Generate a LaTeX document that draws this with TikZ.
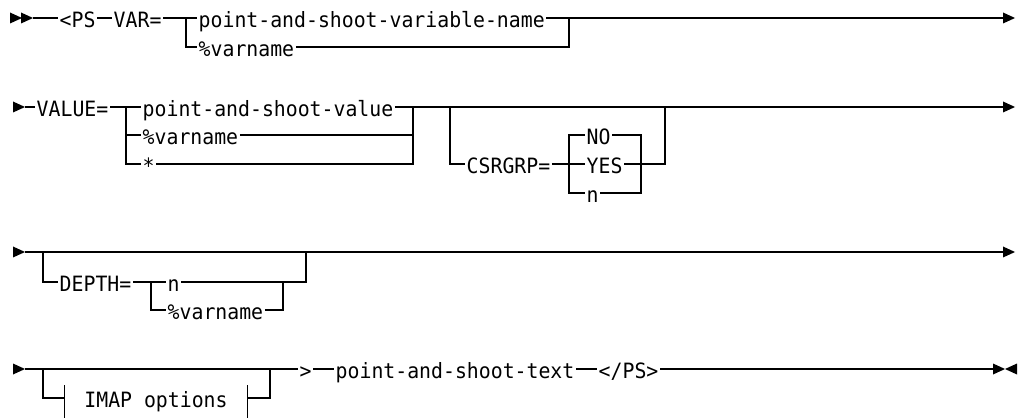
\documentclass[tikz,border=0pt]{standalone}
\usepackage{fontspec}
\newfontfamily\railfont{DejaVu Sans Mono}[FakeStretch=0.94]
\usetikzlibrary{calc,positioning}
\tikzset{
myWord/.style={
	font={\fontsize{12}{14}\railfont},
	anchor=west, inner xsep=0.6pt, inner ysep=0pt,
	text height=10.5pt, text depth=0pt
}
, myFrag/.style={
	font={\fontsize{12}{14}\railfont},
	inner sep=0pt, minimum width=3.64cm,
	text height=10.5pt, text depth=0pt
}
% rails
, myRail/.style={line width=0.75pt}
, myHead/.pic={\fill (0,-5.5) -- (12,0) -- (0,5.5) -- cycle;}
}

\begin{document}
\begin{tikzpicture}[x=0.02cm,y=-0.02cm,myRail]
	\useasboundingbox (0,0) rectangle (1023,418);
	% row 1
	\coordinate (R1s) at (33,18);
	\node[myWord] (PsOpen) at (58,18) {<PS};
	\node[myWord] (VarEq) at (112,18) {VAR=};
	\coordinate (F1) at (186,18);
	\node[myWord] (VarName) at (197,18) {point-and-shoot-variable-name};
	\node[myWord] (VarPct) at (197,47) {\%varname};
	\coordinate (J1) at (569,18);
	\coordinate (R1e) at (1003,18);
	\pic at (10,18) {myHead};
	\pic at (21,18) {myHead};
	\pic at (R1e) {myHead};
	\draw (R1s) -- (PsOpen.west) (PsOpen.east) -- (VarEq.west) (VarEq.east) -- (VarName.west)
		(VarName.east) -- (R1e);
	\draw (F1) |- (VarPct.west) (VarPct.east) -| (J1);

	% row 2
	\coordinate (R2s) at (25,107);
	\node[myWord] (ValEq) at (35,107) {VALUE=};
	\coordinate (F2) at (126,107);
	\node[myWord] (ValName) at (141,107) {point-and-shoot-value};
	\node[myWord] (ValPct) at (141,135) {\%varname};
	\node[myWord] (ValStar) at (141,164) {*};
	\coordinate (J2) at (413,107);
	\coordinate (F3) at (450,107);
	\node[myWord] (CsrEq) at (465,164) {CSRGRP=};
	\coordinate (F4) at (569,164);
	\node[myWord] (CsrNo) at (585,135) {NO};
	\node[myWord] (CsrYes) at (585,164) {YES};
	\node[myWord] (CsrN) at (585,193) {n};
	\coordinate (J4) at (641,164);
	\coordinate (J3) at (665,107);
	\coordinate (R2e) at (1003,107);
	\pic at (13,107) {myHead};
	\pic at (R2e) {myHead};
	\draw (R2s) -- (ValEq.west) (ValEq.east) -- (ValName.west) (ValName.east) -- (R2e);
	\draw (F2) |- (ValPct.west) (F2) |- (ValStar.west)
		(ValPct.east) -| (J2) (ValStar.east) -| (J2);
	\draw (F3) |- (CsrEq.west) (CsrEq.east) -- (CsrYes.west) (CsrYes.east) -| (J3);
	\draw (CsrNo.west) -| (F4) |- (CsrN.west) (CsrNo.east) -| (J4) |- (CsrN.east);

	% row 3
	\coordinate (R3s) at (25,252);
	\coordinate (F5) at (43,252);
	\node[myWord] (DepEq) at (58,282) {DEPTH=};
	\coordinate (F6) at (151,282);
	\node[myWord] (DepN) at (166,282) {n};
	\node[myWord] (DepPct) at (166,310) {\%varname};
	\coordinate (J6) at (283,282);
	\coordinate (J5) at (306,252);
	\coordinate (R3e) at (1003,252);
	\pic at (13,252) {myHead};
	\pic at (R3e) {myHead};
	\draw (R3s) -- (R3e);
	\draw (F5) |- (DepEq.west) (DepEq.east) -- (DepN.west) (DepN.east) -| (J5);
	\draw (F6) |- (DepPct.west) (DepPct.east) -| (J6);

	% row 4
	\coordinate (R4s) at (25,369);
	\coordinate (F7) at (43,369);
	\node[myFrag] (Imap) at (156,398) {IMAP options};
	\coordinate (J7) at (270,369);
	\node[myWord] (Gt) at (298,369) {>};
	\node[myWord] (PtText) at (334,369) {point-and-shoot-text};
	\node[myWord] (PsClose) at (597,369) {</PS>};
	\coordinate (R4e) at (993,369);
	\pic at (13,369) {myHead};
	\pic at (R4e) {myHead};
	\pic[xscale=-1] at (1017,369) {myHead};
	\draw (R4s) -- (Gt.west) (Gt.east) -- (PtText.west) (PtText.east) -- (PsClose.west)
		(PsClose.east) -- (R4e);
	\draw (F7) |- (Imap.west) (Imap.east) -| (J7);
	\draw ($(Imap.west)+(0,-13)$) -- ($(Imap.west)+(0,20)$)
		($(Imap.east)+(0,-13)$) -- ($(Imap.east)+(0,20)$);
\end{tikzpicture}
\end{document}
